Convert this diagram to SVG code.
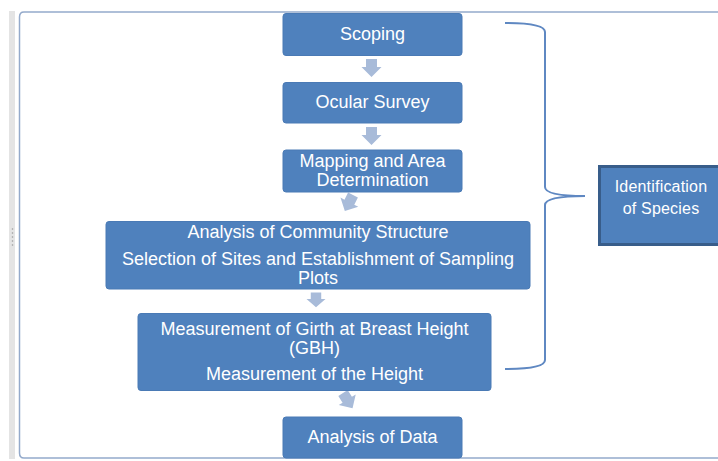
<svg xmlns="http://www.w3.org/2000/svg" width="718" height="461" viewBox="0 0 718 461">
  <style>
    .box { fill: #4f81bd; stroke: #4a7ab5; stroke-width: 1; }
    .t { font-family: "Liberation Sans", Arial, sans-serif; font-size: 18px; fill: #ffffff; text-anchor: middle; }
    .ts { font-family: "Liberation Sans", Arial, sans-serif; font-size: 16px; fill: #ffffff; text-anchor: middle; letter-spacing: 0.2px; }
    .arr { fill: #a8bbd9; }
    .brace { fill: none; stroke: #5f88c2; stroke-width: 2; }
  </style>
  <defs>
    <path id="dn" d="M-5.5,0 L5.5,0 L5.5,8 L10,8 L0,18 L-10,8 L-5.5,8 Z"/>
  </defs>
  <rect width="718" height="461" fill="#ffffff"/>
  <g id="frame">
    <rect x="9" y="11" width="6" height="448" fill="#e4e4e4"/>
    <path d="M718,12 L24,12 Q19.5,12 19.5,17 L19.5,453 Q19.5,458 24,458 L718,458" fill="none" stroke="#94aacb" stroke-width="1.5"/>
    <circle cx="12.5" cy="229" r="0.8" fill="#9a9a9a"/>
    <circle cx="12.5" cy="233" r="0.8" fill="#9a9a9a"/>
    <circle cx="12.5" cy="237" r="0.8" fill="#9a9a9a"/>
    <circle cx="12.5" cy="241" r="0.8" fill="#9a9a9a"/>
    <circle cx="12.5" cy="245" r="0.8" fill="#9a9a9a"/>
  </g>
  <g id="connectors">
    <use href="#dn" class="arr" transform="translate(371.5,59)"/>
    <use href="#dn" class="arr" transform="translate(371.5,127)"/>
    <use href="#dn" class="arr" transform="translate(353,195) rotate(27)"/>
    <use href="#dn" class="arr" transform="translate(316,292.5) scale(0.95,0.82)"/>
    <use href="#dn" class="arr" transform="translate(343,393) rotate(-32)"/>
    <path class="brace" d="M505,23 Q545,23 545,32 L545,187 Q545,196 585,196 Q545,196 545,205 L545,360 Q545,369 505,369"/>
  </g>
  <g id="scoping">
    <rect class="box" x="283" y="13.5" width="179" height="42" rx="3"/>
    <text class="t" x="372.5" y="40">Scoping</text>
  </g>
  <g id="ocular">
    <rect class="box" x="283" y="82.5" width="179" height="40.5" rx="3"/>
    <text class="t" x="372.5" y="108">Ocular Survey</text>
  </g>
  <g id="mapping">
    <rect class="box" x="283" y="150" width="179" height="42" rx="3"/>
    <text class="t" x="372.5" y="167">Mapping and Area</text>
    <text class="t" x="372.5" y="185.5">Determination</text>
  </g>
  <g id="community">
    <rect class="box" x="106" y="221.5" width="424" height="67.5" rx="3"/>
    <text class="t" x="318" y="238">Analysis of Community Structure</text>
    <text class="t" x="318" y="264.5">Selection of Sites and Establishment of Sampling</text>
    <text class="t" x="318" y="283.5">Plots</text>
  </g>
  <g id="measurement">
    <rect class="box" x="138" y="313.5" width="353" height="77" rx="3"/>
    <text class="t" x="314.5" y="334.5">Measurement of Girth at Breast Height</text>
    <text class="t" x="314.5" y="353.5">(GBH)</text>
    <text class="t" x="314.5" y="379.5">Measurement of the Height</text>
  </g>
  <g id="data">
    <rect class="box" x="283" y="417" width="179" height="41" rx="3"/>
    <text class="t" x="372.5" y="443">Analysis of Data</text>
  </g>
  <g id="identification">
    <rect x="599.5" y="166.5" width="130" height="78" fill="#4f81bd" stroke="#385d8a" stroke-width="3"/>
    <text class="ts" x="661" y="191.5">Identification</text>
    <text class="ts" x="661" y="213.5">of Species</text>
  </g>
</svg>
